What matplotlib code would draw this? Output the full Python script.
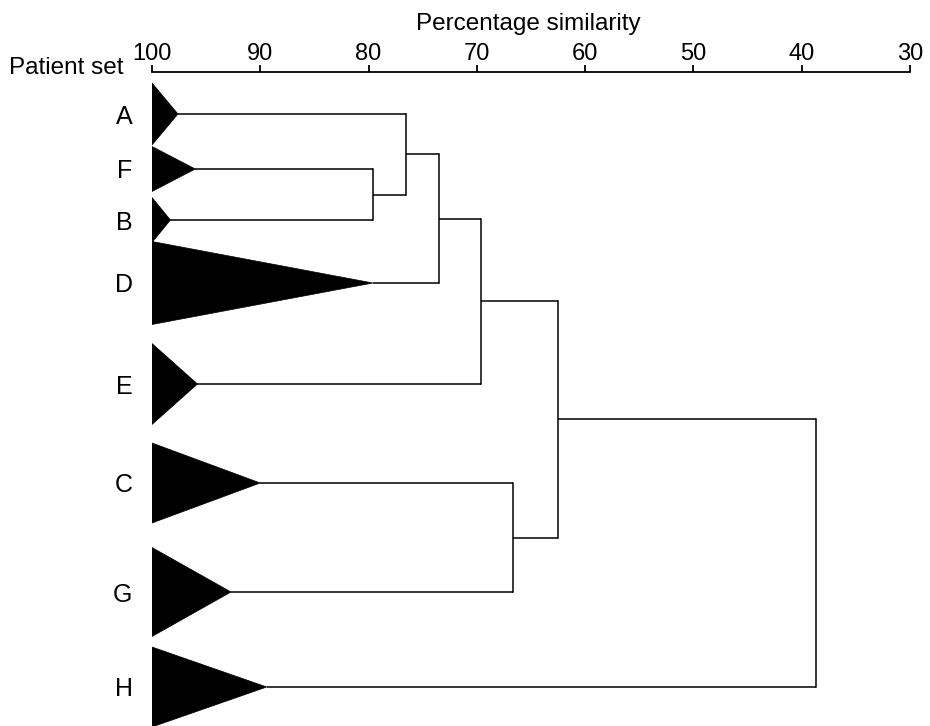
import matplotlib
matplotlib.use('Agg')
import matplotlib.pyplot as plt
from matplotlib.patches import Polygon

plt.rcParams['font.family'] = ['Liberation Sans', 'DejaVu Sans']

# ---- data ----
patient_sets = ['A', 'F', 'B', 'D', 'E', 'C', 'G', 'H']
set_position = [42, 97, 148, 211, 312, 411, 520, 615]        # vertical row position (arbitrary units)
set_spread = [31, 22.5, 22.5, 41.5, 40.5, 40, 44.5, 40]      # half-height of cluster triangle
within_similarity = [97.6, 96.0, 98.3, 79.6, 95.8, 90.0, 92.7, 89.4]

merge_left = ['F', 'A', 'AFB', 'AFBD', 'C', 'AFBDE', 'AFBDECG']
merge_right = ['B', 'FB', 'D', 'E', 'G', 'CG', 'H']
merge_similarity = [79.6, 76.5, 73.5, 69.6, 66.7, 62.5, 38.7]

x_ticks = [100, 90, 80, 70, 60, 50, 40, 30]

# ---- figure ----
W, H = 930, 726
fig = plt.figure(figsize=(W / 100, H / 100), dpi=100)
ax = fig.add_axes([152 / W, 0, (910 - 152) / W, (726 - 72) / H])
ax.set_xlim(100, 30)
ax.set_ylim(654, 0)

lw = 1.1
node_x = {}
node_y = {}
for name, pos, spread, sim in zip(patient_sets, set_position, set_spread, within_similarity):
    tri = Polygon([(100, pos - spread), (100, pos + spread), (sim, pos)],
                  closed=True, facecolor='black', edgecolor='black', lw=0.5)
    ax.add_patch(tri)
    node_x[name] = sim
    node_y[name] = pos

for left, right, sim in zip(merge_left, merge_right, merge_similarity):
    yl, yr = node_y[left], node_y[right]
    ax.plot([node_x[left], sim], [yl, yl], color='black', lw=lw, solid_capstyle='butt')
    ax.plot([node_x[right], sim], [yr, yr], color='black', lw=lw, solid_capstyle='butt')
    ax.plot([sim, sim], [yl, yr], color='black', lw=lw, solid_capstyle='projecting')
    new = left + right
    node_x[new] = sim
    node_y[new] = (yl + yr) / 2

# axes styling
for s in ['left', 'right', 'bottom']:
    ax.spines[s].set_visible(False)
ax.spines['top'].set_linewidth(1.3)
ax.spines['top'].set_bounds(100, 30)
ax.xaxis.tick_top()
ax.set_xticks(x_ticks)
ax.set_xticklabels([str(t) for t in x_ticks])
ax.tick_params(axis='x', direction='out', length=5, width=1.3, pad=0, labelsize=17)
ax.set_yticks(set_position)
ax.set_yticklabels(patient_sets)
ax.tick_params(axis='y', length=0, pad=14, labelsize=18)
ax.patch.set_visible(False)

fig.text(528 / W, 1 - 30 / H, 'Percentage similarity', ha='center', va='baseline', fontsize=17.5)
fig.text(9 / W, 1 - 74 / H, 'Patient set', ha='left', va='baseline', fontsize=17.5)

fig.savefig('out.png', dpi=100)
